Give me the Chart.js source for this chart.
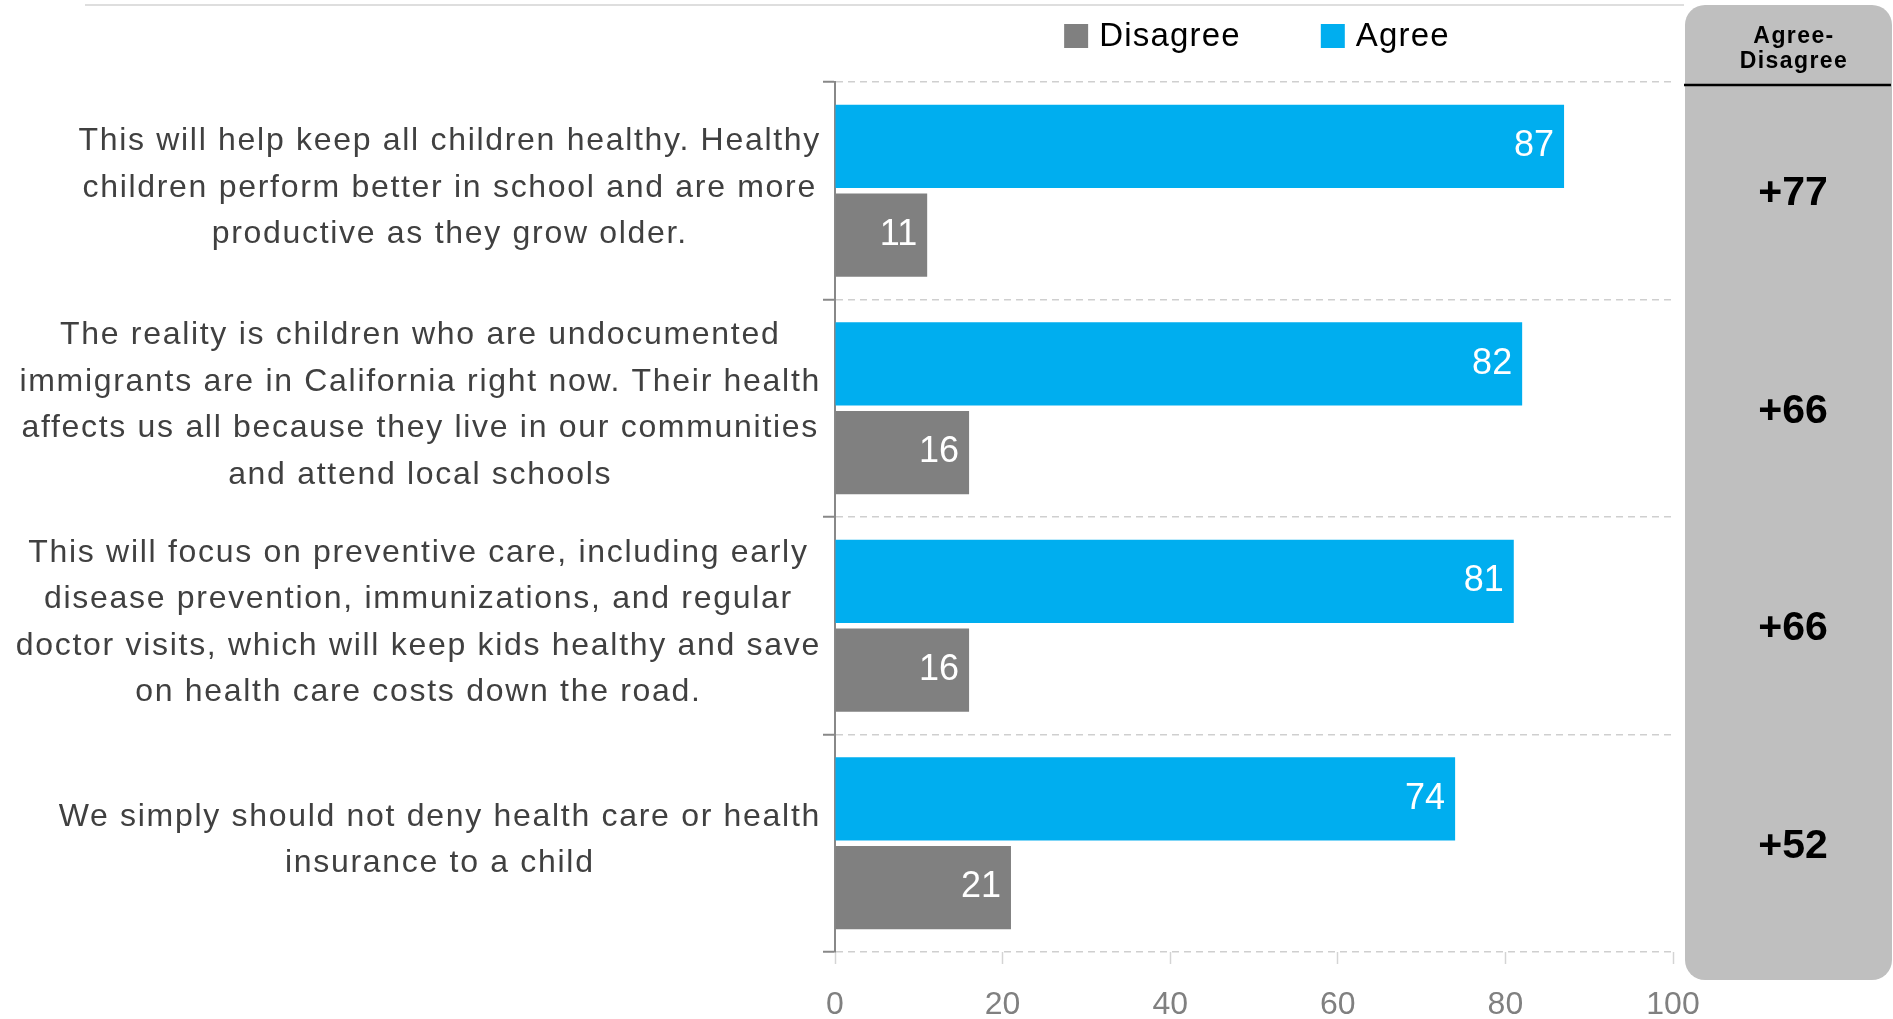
<!DOCTYPE html>
<html><head><meta charset="utf-8">
<script src="https://cdn.jsdelivr.net/npm/chart.js@4.4.1/dist/chart.umd.min.js"></script>
<style>html,body{margin:0;padding:0;background:#fff;overflow:hidden}canvas{display:block}</style>
</head><body>
<canvas id="c" width="1893" height="1019"></canvas>
<script>
// ---- data ----
const categories = [
  ["This will help keep all children healthy. Healthy", "children perform better in school and are more", "productive as they grow older."],
  ["The reality is children who are undocumented", "immigrants are in California right now. Their health", "affects us all because they live in our communities", "and attend local schools"],
  ["This will focus on preventive care, including early", "disease prevention, immunizations, and regular", "doctor visits, which will keep kids healthy and save", "on health care costs down the road."],
  ["We simply should not deny health care or health", "insurance to a child"]
];
const agreeValues = [87, 82, 81, 74];
const disagreeValues = [11, 16, 16, 21];
const netLabels = ["+77", "+66", "+66", "+52"];
const xTicks = [0, 20, 40, 60, 80, 100];
const seriesNames = ["Agree", "Disagree"];
const legendOrder = ["Disagree", "Agree"];
const panelTitle = ["Agree-", "Disagree"];

const FONT = '"Liberation Sans", Arial, Helvetica, sans-serif';
const BLUE = '#00AEEF';
const GRAY = '#808080';

const decorPlugin = {
  id: 'decor',
  beforeDraw(chart) {
    const ctx = chart.ctx;
    ctx.save();
    // top thin line
    ctx.strokeStyle = '#dedede';
    ctx.lineWidth = 2;
    ctx.beginPath(); ctx.moveTo(85, 5); ctx.lineTo(1684, 5); ctx.stroke();
    // right panel
    ctx.fillStyle = '#BFBFBF';
    ctx.beginPath();
    ctx.roundRect(1685, 5, 207, 975, 20);
    ctx.fill();
    ctx.strokeStyle = '#000';
    ctx.lineWidth = 2.5;
    ctx.beginPath(); ctx.moveTo(1684, 85); ctx.lineTo(1891, 85); ctx.stroke();
    ctx.fillStyle = '#000';
    ctx.textAlign = 'center';
    ctx.textBaseline = 'middle';
    ctx.font = 'bold 23px ' + FONT;
    try { ctx.letterSpacing = '1.4px'; } catch (e) {}
    ctx.fillText(panelTitle[0], 1794, 37);
    ctx.fillText(panelTitle[1], 1794, 62);
    ctx.restore();
  },
  afterDraw(chart) {
    const ctx = chart.ctx;
    const ys = chart.scales.y;
    const area = chart.chartArea;
    ctx.save();
    // net values in panel
    ctx.fillStyle = '#000';
    ctx.textAlign = 'center';
    ctx.textBaseline = 'middle';
    ctx.font = 'bold 41px ' + FONT;
    netLabels.forEach((t, i) => ctx.fillText(t, 1793, ys.getPixelForValue(i) + 3));
    // category labels
    ctx.font = '32px ' + FONT;
    try { ctx.letterSpacing = '1.7px'; } catch (e) {}
    ctx.fillStyle = '#404040';
    const rightEdge = area.left - 14;
    const lh = 46.6;
    chart.data.labels.forEach((lines, i) => {
      const widest = Math.max(...lines.map(l => ctx.measureText(l).width));
      const cx = rightEdge - widest / 2;
      const cy = ys.getPixelForValue(i) - 3;
      lines.forEach((l, j) => ctx.fillText(l, cx, cy + (j - (lines.length - 1) / 2) * lh));
    });
    // legend
    ctx.font = '33px ' + FONT;
    try { ctx.letterSpacing = '1.2px'; } catch (e) {}
    ctx.textAlign = 'left';
    const items = legendOrder.map(name => {
      const ds = chart.data.datasets.find(d => d.label === name);
      return { name, color: ds.backgroundColor, w: ctx.measureText(name).width };
    });
    const box = 24, gapText = 11, gapItem = 80;
    const total = items.reduce((s, it) => s + box + gapText + it.w, 0) + gapItem * (items.length - 1);
    let x = (area.left + area.right) / 2 + 3 - total / 2;
    const ly = 36;
    items.forEach(it => {
      ctx.fillStyle = it.color;
      ctx.fillRect(x, ly - box / 2, box, box);
      ctx.fillStyle = '#000';
      ctx.fillText(it.name, x + box + gapText, ly + 1);
      x += box + gapText + it.w + gapItem;
    });
    ctx.restore();
  },
  afterDatasetsDraw(chart) {
    const ctx = chart.ctx;
    ctx.save();
    ctx.font = '36px ' + FONT;
    ctx.fillStyle = '#fff';
    ctx.textAlign = 'right';
    ctx.textBaseline = 'middle';
    chart.data.datasets.forEach((ds, di) => {
      chart.getDatasetMeta(di).data.forEach((bar, i) => {
        ctx.fillText(String(ds.data[i]), bar.x - 10, bar.y);
      });
    });
    ctx.restore();
  }
};

new Chart(document.getElementById('c'), {
  type: 'bar',
  data: {
    labels: categories,
    datasets: [
      { label: seriesNames[0], data: agreeValues, backgroundColor: BLUE },
      { label: seriesNames[1], data: disagreeValues, backgroundColor: GRAY }
    ]
  },
  options: {
    indexAxis: 'y',
    responsive: false,
    animation: false,
    categoryPercentage: 0.815,
    barPercentage: 0.94,
    layout: { padding: { left: 823, right: 220, top: 82, bottom: 0 } },
    plugins: { legend: { display: false }, tooltip: { enabled: false } },
    scales: {
      x: {
        min: 0, max: 100,
        afterBuildTicks: s => { s.ticks = xTicks.map(v => ({ value: v })); },
        afterFit: s => { s.height = 67; },
        grid: { drawOnChartArea: false, drawTicks: true, tickLength: 12, tickColor: '#d4d4d4', tickWidth: 1.5 },
        border: { display: false },
        ticks: { color: '#808080', padding: 25, font: { family: FONT, size: 32, lineHeight: 1 } }
      },
      y: {
        type: 'category',
        offset: true,
        afterFit: s => { s.width = 12; },
        grid: { offset: true, color: '#cfcfcf', lineWidth: 1.5, tickLength: 12, tickColor: '#888888', tickWidth: 2, tickBorderDash: [] },
        border: { display: true, color: '#888888', width: 2, dash: [7, 5] },
        ticks: { display: false }
      }
    }
  },
  plugins: [decorPlugin]
});
</script>
</body></html>
